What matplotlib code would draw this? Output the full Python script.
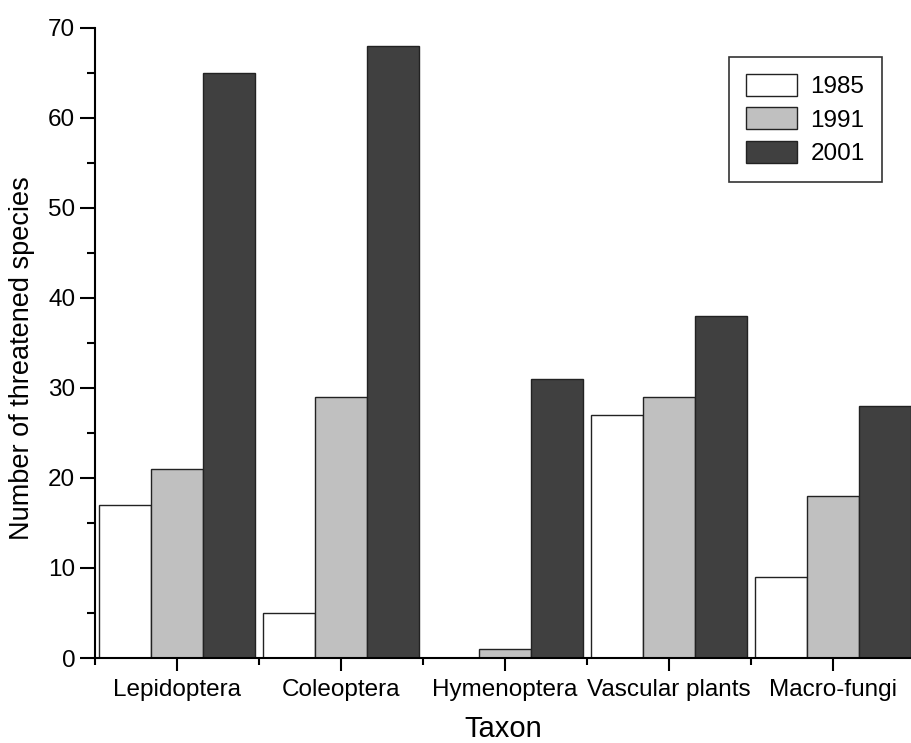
import numpy as np
import matplotlib
matplotlib.use('Agg')
from matplotlib import pyplot as plt

plt.rcParams['font.family'] = ['Liberation Sans', 'DejaVu Sans']

taxa = ['Lepidoptera', 'Coleoptera', 'Hymenoptera', 'Vascular plants', 'Macro-fungi']
years = ['1985', '1991', '2001']
v1985 = [17, 5, 0, 27, 9]
v1991 = [21, 29, 1, 29, 18]
v2001 = [65, 68, 31, 38, 28]

colors = ['#ffffff', '#c0c0c0', '#404040']
series = [v1985, v1991, v2001]

fig = plt.figure(figsize=(9.11, 7.43), dpi=100)
ax = fig.add_axes([0.104, 0.1144, 0.896, 0.848])

x = np.arange(1, len(taxa) + 1)
w = 0.317
for i, vals in enumerate(series):
    ax.bar(x + (i - 1) * w, vals, width=w, color=colors[i], edgecolor='#222222',
           linewidth=1.0, label=years[i])

ax.set_xlim(0.5, 5.476)
ax.set_ylim(0, 70)
ax.set_yticks(np.arange(0, 71, 10))
ax.set_yticks(np.arange(5, 70, 10), minor=True)
ax.set_xticks(x)
ax.set_xticklabels(taxa)
ax.set_xticks(np.arange(0.5, 5.5, 1), minor=True)

for s in ['top', 'right']:
    ax.spines[s].set_visible(False)
for s in ['left', 'bottom']:
    ax.spines[s].set_linewidth(1.5)

ax.tick_params(axis='both', which='both', direction='out', width=1.5, labelsize=17.5)
ax.tick_params(axis='y', which='major', length=10.5, pad=3.6)
ax.tick_params(axis='y', which='minor', length=6)
ax.tick_params(axis='x', which='major', length=9, pad=6)
ax.tick_params(axis='x', which='minor', length=5)

ax.set_xlabel('Taxon', fontsize=21)
ax.xaxis.set_label_coords(0.5, -0.091)
ax.xaxis.label.set_va('top')
ax.set_ylabel('Number of threatened species', fontsize=19.5)
ax.yaxis.set_label_coords(-0.0735, 0.476)

leg = ax.legend(loc='upper right', bbox_to_anchor=(0.964, 0.954), fontsize=17.5,
                frameon=True, fancybox=False, edgecolor='black', handlelength=2.1,
                handleheight=1.0, labelspacing=0.38, borderpad=0.7, handletextpad=0.55,
                borderaxespad=0)
leg.get_frame().set_linewidth(1.2)

fig.savefig('out.png', dpi=100)
